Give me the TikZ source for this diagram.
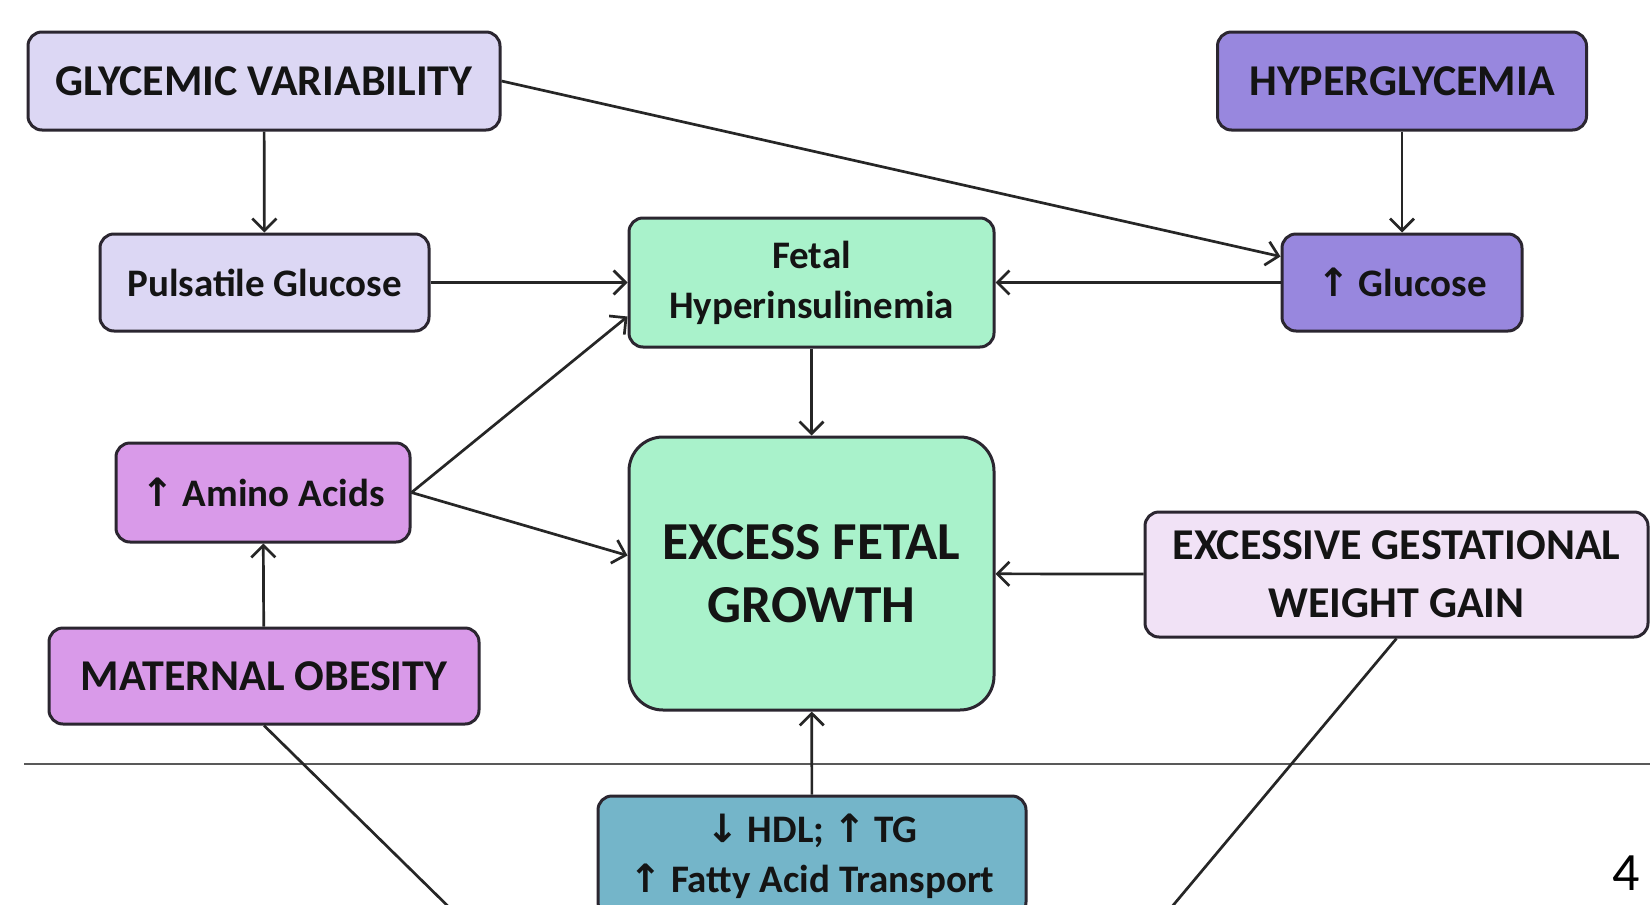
\documentclass[tikz,border=0pt]{standalone}
\usepackage{fontspec}
\setmainfont{Carlito}
\newfontfamily\arrowfont{DejaVu Sans}
\usetikzlibrary{arrows.meta}
\definecolor{lavlight}{HTML}{DCD7F4}
\definecolor{lavdark}{HTML}{9887DE}
\definecolor{mint}{HTML}{A9F2CB}
\definecolor{orchid}{HTML}{D99AE9}
\definecolor{blush}{HTML}{F1E2F6}
\definecolor{lipidblue}{HTML}{74B5C9}
\definecolor{edgeline}{HTML}{2B2630}
\newcommand{\uarr}{{\arrowfont ↑}}
\newcommand{\darr}{{\arrowfont ↓}}
\begin{document}
\begin{tikzpicture}
          [x=0.5pt,y=-0.5pt,
           box/.style={draw=edgeline, line width=1.5pt, rounded corners=7pt, align=center, inner sep=0pt, text=black!92},
           capsbox/.style={box, font=\fontsize{22}{29}\selectfont\bfseries},
           textbox/.style={box, font=\fontsize{19.5}{25}\selectfont\bfseries},
           link/.style={line width=1.35pt, draw=black!85, -{Straight Barb[length=6pt,width=12pt,line width=1.35pt]}},
           tieline/.style={line width=1.35pt, draw=black!85}]
        \clip (0,0) rectangle (1650,905);
        \fill[white] (0,0) rectangle (1650,905);

        \coordinate (sepL) at (24,764);
        \coordinate (sepR) at (1650,764);
        \draw[draw=black!65, line width=1.3pt] (sepL) -- (sepR);

        \node[capsbox, fill=lavlight, minimum width=236pt, minimum height=49pt] (gv) at (264,81) {GLYCEMIC VARIABILITY};
        \node[capsbox, fill=lavdark, minimum width=184.5pt, minimum height=49pt] (hyper) at (1402,81) {HYPERGLYCEMIA};

        \node[textbox, fill=lavlight, minimum width=164.5pt, minimum height=48.5pt] (pulse) at (264.5,282.5) {Pulsatile Glucose};
        \node[textbox, fill=mint, minimum width=182.5pt, minimum height=64.5pt] (fh) at (811.5,282.5) {Fetal\\Hyperinsulinemia};
        \node[textbox, fill=lavdark, minimum width=120pt, minimum height=48.5pt] (gluc) at (1402,282.5) {\uarr{} Glucose};

        \node[textbox, fill=orchid, minimum width=147pt, minimum height=49.5pt] (amino) at (263,492.5) {\uarr{} Amino Acids};
        \node[capsbox, fill=mint, rounded corners=17pt, font=\fontsize{26.7}{31.5}\selectfont\bfseries,
              minimum width=182.5pt, minimum height=136.5pt] (efg) at (811.5,573.5) {EXCESS FETAL\\GROWTH};
        \node[capsbox, fill=blush, minimum width=251.5pt, minimum height=62.5pt] (egwg) at (1396.5,574.5) {EXCESSIVE GESTATIONAL\\WEIGHT GAIN};
        \node[capsbox, fill=orchid, minimum width=215pt, minimum height=48pt] (mo) at (264,676) {MATERNAL OBESITY};

        \node[textbox, fill=lipidblue, minimum width=214pt, minimum height=60pt] (lipid) at (812,856) {\darr{} HDL; \uarr{} TG\\\uarr{} Fatty Acid Transport};

        \node[font=\fontsize{27}{30}\selectfont] (pagenum) at (1626,873) {4};

        \foreach \from/\to in {gv/pulse, hyper/gluc, pulse/fh, gluc/fh, fh/efg, mo/amino, lipid/efg, egwg/efg}
          \draw[link] (\from) -- (\to);

        \draw[link] (gv.east) -- ([yshift=13pt]gluc.west);
        \draw[link] (amino.east) -- ([yshift=-17pt]fh.west);
        \draw[link] (amino.east) -- ([yshift=9pt]efg.west);

        \coordinate (moend) at (457,915);
        \coordinate (egwgend) at (1165,915);
        \draw[tieline] (mo.south) -- (moend);
        \draw[tieline] (egwg.south) -- (egwgend);
      \end{tikzpicture}
\end{document}
